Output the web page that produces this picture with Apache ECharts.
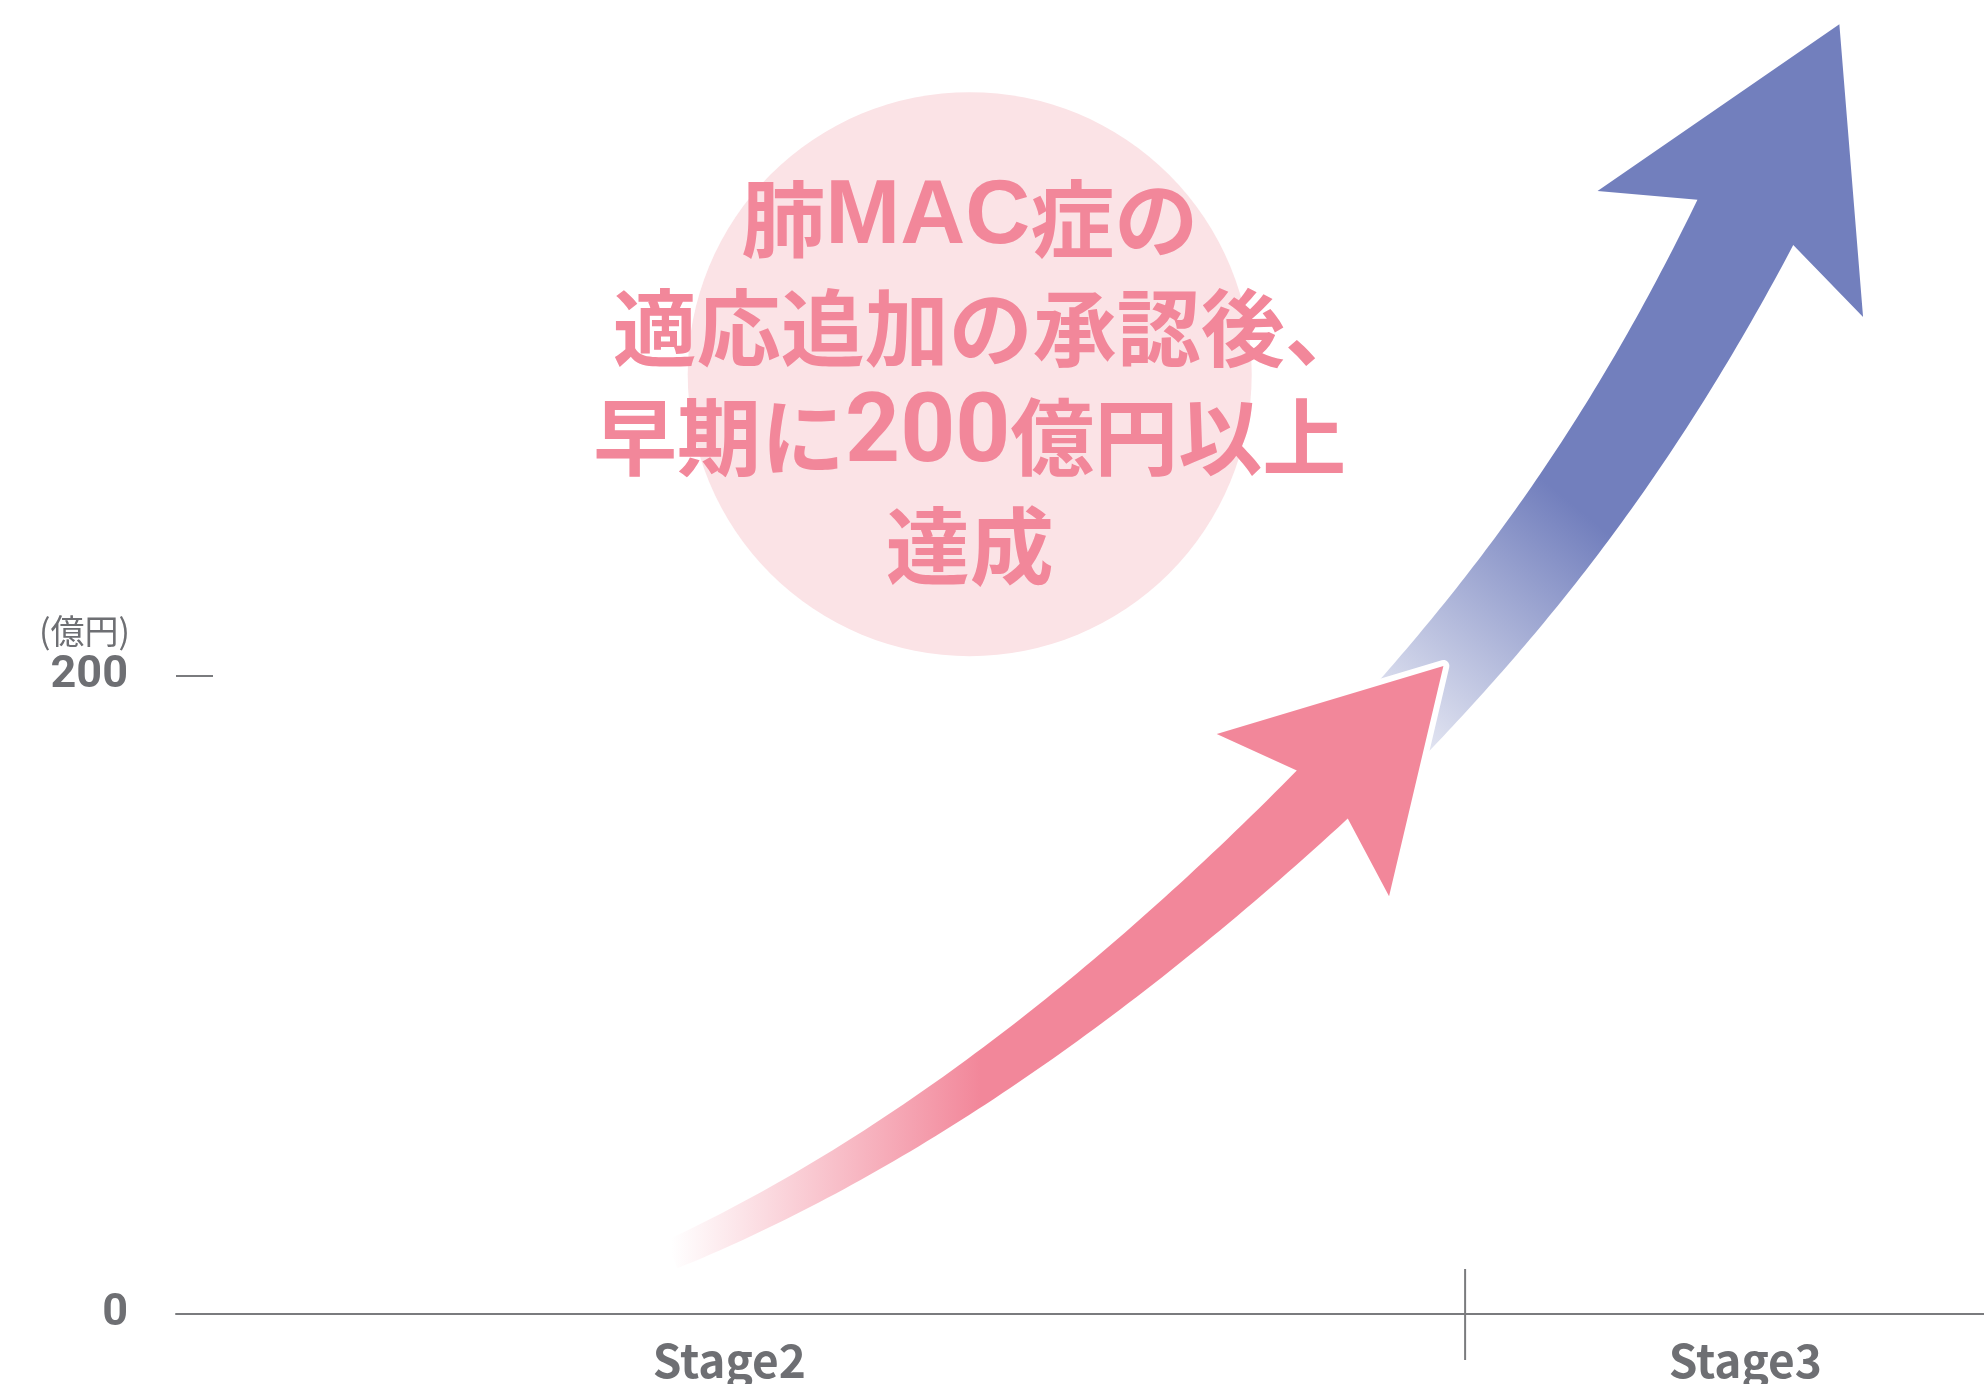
<!DOCTYPE html>
<html><head><meta charset="utf-8">
<script src="https://cdn.jsdelivr.net/npm/echarts@6/dist/echarts.min.js"></script>
<style>html,body{margin:0;padding:0;background:#fff}#chart{width:1984px;height:1384px}</style>
</head><body><div id="chart"></div>
<script>
// ---- data ----
const stageNames = ['Stage2', 'Stage3'];
const stageLabelAt = [30.6, 86.8];
const stageBoundary = [71.3];
const yTickValues = [0, 200];
const yUnit = '(億円)';
// growth path during Stage2 (pink arrow); last point = arrow tip
const stage2GrowthX = [27.4, 33.0, 38.9, 44.5, 50.0, 56.3, 63.4, 70.1];
const stage2GrowthY = [19, 33, 53, 74, 97, 125, 163, 203];
// growth path into Stage3 (blue arrow); last point = arrow tip
const stage3GrowthX = [67.4, 70.7, 72.8, 77.4, 81.9, 86.0, 86.8, 92.0];
const stage3GrowthY = [184, 205, 219, 253, 292, 333, 342, 404];
const calloutLines = ['肺{m|MAC}症の', '{s| }適応追加の承認後、', '早期に{d|200}億円以上', '達成'];
const calloutAt = [43.9, 294.4];

// ---- helpers ----
const GRAY = '#6e6f73';
const LINE_GRAY = '#7a7b7e';
function sub(a, b) { return [a[0] - b[0], a[1] - b[1]]; }
function len(v) { return Math.hypot(v[0], v[1]); }
function nrmz(v) { const l = len(v) || 1; return [v[0] / l, v[1] / l]; }
function solve(A, b) {
  const n = b.length, M = A.map((r, i) => r.concat([b[i]]));
  for (let c = 0; c < n; c++) {
    let p = c;
    for (let r = c + 1; r < n; r++) if (Math.abs(M[r][c]) > Math.abs(M[p][c])) p = r;
    [M[c], M[p]] = [M[p], M[c]];
    for (let r = 0; r < n; r++) {
      if (r === c) continue;
      const f = M[r][c] / M[c][c];
      for (let k = c; k <= n; k++) M[r][k] -= f * M[c][k];
    }
  }
  return M.map((r, i) => r[n] / r[i]);
}
// least-squares cubic through the pixel points (smooth centre line)
function smoothBody(pts, steps) {
  const x0 = pts[0][0], span = pts[pts.length - 1][0] - x0;
  const A = [[0,0,0,0],[0,0,0,0],[0,0,0,0],[0,0,0,0]], b = [0,0,0,0];
  pts.forEach(p => {
    const u = (p[0] - x0) / span, pw = [1, u, u * u, u * u * u];
    for (let i = 0; i < 4; i++) { b[i] += pw[i] * p[1]; for (let j = 0; j < 4; j++) A[i][j] += pw[i] * pw[j]; }
  });
  const c = solve(A, b);
  const out = [];
  for (let s = 0; s <= steps; s++) {
    const u = s / steps;
    out.push([x0 + u * span, c[0] + c[1] * u + c[2] * u * u + c[3] * u * u * u]);
  }
  return out;
}

function makeArrowRenderer(st) {
  return function (params, api) {
    if (params.dataIndexInside !== 0) return null;
    const n = params.dataInsideLength;
    const pts = [];
    for (let i = 0; i < n; i++) pts.push(api.coord([api.value(0, i), api.value(1, i)]));
    const tip = pts[n - 1];
    const body = smoothBody(pts.slice(0, n - 1), 80);
    const base = body[body.length - 1];
    const d = nrmz(sub(tip, base));
    const N = len(sub(tip, base));
    const cum = [0];
    for (let k = 1; k < body.length; k++) cum.push(cum[k - 1] + len(sub(body[k], body[k - 1])));
    const total = cum[cum.length - 1];
    const s1 = [], s2 = [];
    body.forEach((p, k) => {
      let t;
      if (k === body.length - 1) t = d;
      else if (k === 0) t = nrmz(sub(body[1], body[0]));
      else t = nrmz(sub(body[k + 1], body[k - 1]));
      const nv = [-t[1], t[0]];
      const hw = st.tailHW + (st.baseHW - st.tailHW) * cum[k] / total;
      s1.push([p[0] + nv[0] * hw, p[1] + nv[1] * hw]);
      s2.push([p[0] - nv[0] * hw, p[1] - nv[1] * hw]);
    });
    const L = N * 1.16, H = N * 0.67;
    const nh = [-d[1], d[0]];
    const back = [tip[0] - d[0] * L, tip[1] - d[1] * L];
    const poly = s1.concat([[back[0] + nh[0] * H, back[1] + nh[1] * H], tip,
      [back[0] - nh[0] * H, back[1] - nh[1] * H]], s2.reverse());
    const g0 = pts[0], g1 = pts[st.gradEndIndex];
    const grad = {
      type: 'linear', global: true,
      x: g0[0], y: st.horizontal ? 0 : g0[1],
      x2: g1[0], y2: st.horizontal ? 0 : g1[1],
      colorStops: [{ offset: 0, color: st.fromColor }, { offset: 1, color: st.toColor }]
    };
    const children = [];
    if (st.outline) {
      children.push({ type: 'polygon', shape: { points: poly },
        style: { fill: '#ffffff', stroke: '#ffffff', lineWidth: 12, lineJoin: 'round' }, z2: 0 });
    }
    children.push({ type: 'polygon', shape: { points: poly }, style: { fill: grad }, z2: 1 });
    return { type: 'group', children };
  };
}

const PINK = '#f2879a';
const chart = echarts.init(document.getElementById('chart'), null, { renderer: 'canvas' });
chart.setOption({
  animation: false,
  backgroundColor: '#ffffff',
  title: {
    text: yUnit, left: 39, top: 611, padding: 0,
    textStyle: { fontSize: 34, fontWeight: 'normal', color: GRAY, fontFamily: 'Noto Sans CJK JP', lineHeight: 40 }
  },
  grid: { left: 176, right: 0, top: 37, bottom: 67, containLabel: false },
  xAxis: {
    type: 'value', min: 0, max: 100,
    axisLine: { show: true, lineStyle: { color: LINE_GRAY, width: 2 } },
    axisTick: { show: false },
    splitLine: { show: false },
    axisLabel: {
      customValues: stageLabelAt,
      formatter: v => stageNames[stageLabelAt.indexOf(v)] || '',
      fontSize: 46, fontWeight: 'bold', color: GRAY, fontFamily: 'Noto Sans CJK JP', margin: 24
    }
  },
  yAxis: {
    type: 'value', min: 0, max: 400, interval: 200,
    axisLine: { show: false },
    axisTick: { show: true, inside: true, length: 37, customValues: [yTickValues[1]],
      lineStyle: { color: LINE_GRAY, width: 2 } },
    splitLine: { show: false },
    axisLabel: {
      customValues: yTickValues,
      fontSize: 45, fontWeight: 'bold', color: GRAY, fontFamily: 'Roboto', margin: 48
    }
  },
  series: [
    {
      type: 'scatter', name: 'callout', silent: true, z: 1,
      data: [calloutAt],
      symbol: 'circle', symbolSize: 564,
      itemStyle: { color: '#fbe3e6', opacity: 1 },
      label: {
        show: true, position: 'inside', offset: [0, 8],
        formatter: () => calloutLines.join('\n'),
        fontSize: 84, lineHeight: 109, fontWeight: 'bold', color: PINK,
        fontFamily: 'Noto Sans CJK JP', align: 'center',
        rich: {
          m: { fontFamily: 'Liberation Sans', fontWeight: 'bold', fontSize: 90, lineHeight: 109, color: PINK },
          d: { fontFamily: 'Roboto', fontWeight: 'bold', fontSize: 96, lineHeight: 109, color: PINK },
          s: { width: 42, fontSize: 84, lineHeight: 109, color: 'rgba(0,0,0,0)' }
        }
      },
      emphasis: { disabled: true }
    },
    {
      type: 'custom', name: 'boundary', silent: true, z: 2,
      data: stageBoundary.map(v => [v, 0]),
      renderItem: (params, api) => {
        const p = api.coord([api.value(0), api.value(1)]);
        return { type: 'line', shape: { x1: p[0], y1: p[1] - 45, x2: p[0], y2: p[1] + 46 },
          style: { stroke: LINE_GRAY, lineWidth: 2 } };
      }
    },
    {
      type: 'custom', name: 'Stage3', silent: true, z: 3,
      data: stage3GrowthX.map((x, i) => [x, stage3GrowthY[i]]),
      renderItem: makeArrowRenderer({ tailHW: 42, baseHW: 53, gradEndIndex: 3, horizontal: false,
        fromColor: 'rgba(114,127,189,0.2)', toColor: 'rgba(114,127,189,1)', outline: false })
    },
    {
      type: 'custom', name: 'Stage2', silent: true, z: 4,
      data: stage2GrowthX.map((x, i) => [x, stage2GrowthY[i]]),
      renderItem: makeArrowRenderer({ tailHW: 15, baseHW: 35, gradEndIndex: 3, horizontal: true,
        fromColor: 'rgba(242,135,154,0)', toColor: 'rgba(242,135,154,1)', outline: true })
    }
  ]
});
</script>
</body></html>
